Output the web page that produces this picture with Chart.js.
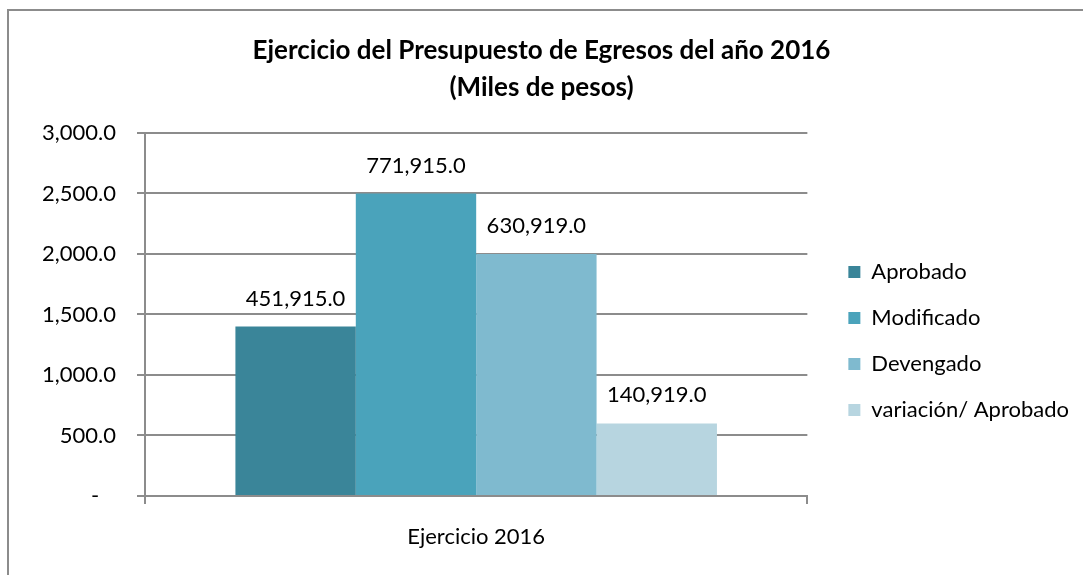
<!DOCTYPE html>
<html>
<head>
<meta charset="utf-8">
<script src="https://cdn.jsdelivr.net/npm/chart.js@4.4.1/dist/chart.umd.min.js"></script>
<style>
  html, body { margin: 0; padding: 0; background: #fff; overflow: hidden; }
  #frame {
    position: absolute; left: 7px; top: 9px; width: 1100px; height: 600px;
    border-left: 2px solid #8c8c8c; border-top: 2px solid #8c8c8c;
  }
  #wrap { position: absolute; left: 9px; top: 11px; width: 1074px; height: 564px; }
</style>
</head>
<body>
<div id="frame"></div>
<div id="wrap"><canvas id="chart"></canvas></div>
<script>
// Ejercicio del Presupuesto de Egresos 2016 — grouped bars, single category
const categories = ["Ejercicio 2016"];
const seriesNames = ["Aprobado", "Modificado", "Devengado", "variación/ Aprobado"];
const barValues = [1400, 2500, 2000, 600];
const barLabels = ["451,915.0", "771,915.0", "630,919.0", "140,919.0"];
const seriesColors = ["#3a8599", "#4aa3bb", "#7fbacf", "#b7d5e0"];
const yMin = 0, yMax = 3000, yStep = 500;

const FONT = "Lato, 'Open Sans', sans-serif";
const GRID = "#8c8c8c";

const fmtTick = (v) => v === 0 ? "-   " :
  v.toLocaleString("en-US", { minimumFractionDigits: 1, maximumFractionDigits: 1 });

// bar value labels drawn above each bar
const barLabelPlugin = {
  id: "barLabels",
  afterDatasetsDraw(chart) {
    const ctx = chart.ctx;
    ctx.save();
    ctx.fillStyle = "#000";
    ctx.font = "22px " + FONT;
    ctx.textAlign = "center";
    ctx.textBaseline = "middle";
    chart.data.datasets.forEach((ds, i) => {
      const bar = chart.getDatasetMeta(i).data[0];
      if (!bar) return;
      ctx.fillText(barLabels[i], bar.x, bar.y - 28);
    });
    ctx.restore();
  },
};

// legend sits a bit away from the plot and lower, title a touch right, like the original
const legendNudge = {
  id: "legendNudge",
  afterLayout(chart) {
    const lg = chart.legend;
    lg.left += 17; lg.right += 17;
    lg.top += 48; lg.bottom += 48;
    const tb = chart.titleBlock;
    tb.left += 6; tb.right += 6;
  },
};

new Chart(document.getElementById("chart"), {
  type: "bar",
  data: {
    labels: categories,
    datasets: seriesNames.map((name, i) => ({
      label: name,
      data: [barValues[i]],
      backgroundColor: seriesColors[i],
      borderWidth: 0,
      barPercentage: 1,
      categoryPercentage: 0.727,
    })),
  },
  options: {
    responsive: true,
    maintainAspectRatio: false,
    animation: false,
    layout: { padding: { right: 21 } },
    plugins: {
      title: {
        display: true,
        text: ["Ejercicio del Presupuesto de Egresos del año 2016", "(Miles de pesos)"],
        color: "#000",
        font: { family: FONT, size: 26, weight: "bold", lineHeight: 1.423 },
        padding: { top: 21, bottom: 27 },
      },
      legend: {
        position: "right",
        align: "center",
        labels: {
          color: "#000",
          font: { family: FONT, size: 22 },
          boxWidth: 12,
          boxHeight: 12,
          padding: 24,
        },
      },
      tooltip: { enabled: false },
    },
    scales: {
      x: {
        afterFit(scale) { scale.height = 79; },
        grid: { display: true, drawOnChartArea: false, drawTicks: true, tickLength: 8, color: GRID, lineWidth: 2 },
        border: { display: true, color: GRID, width: 2 },
        ticks: { color: "#000", font: { family: FONT, size: 22 }, padding: 20 },
      },
      y: {
        min: yMin, max: yMax,
        afterFit(scale) { scale.width = 136; },
        grid: { color: GRID, lineWidth: 2, tickLength: 8 },
        border: { display: true, color: GRID, width: 2 },
        ticks: { stepSize: yStep, color: "#000", font: { family: FONT, size: 22 }, padding: 21, callback: fmtTick },
      },
    },
  },
  plugins: [barLabelPlugin, legendNudge],
});
</script>
</body>
</html>
